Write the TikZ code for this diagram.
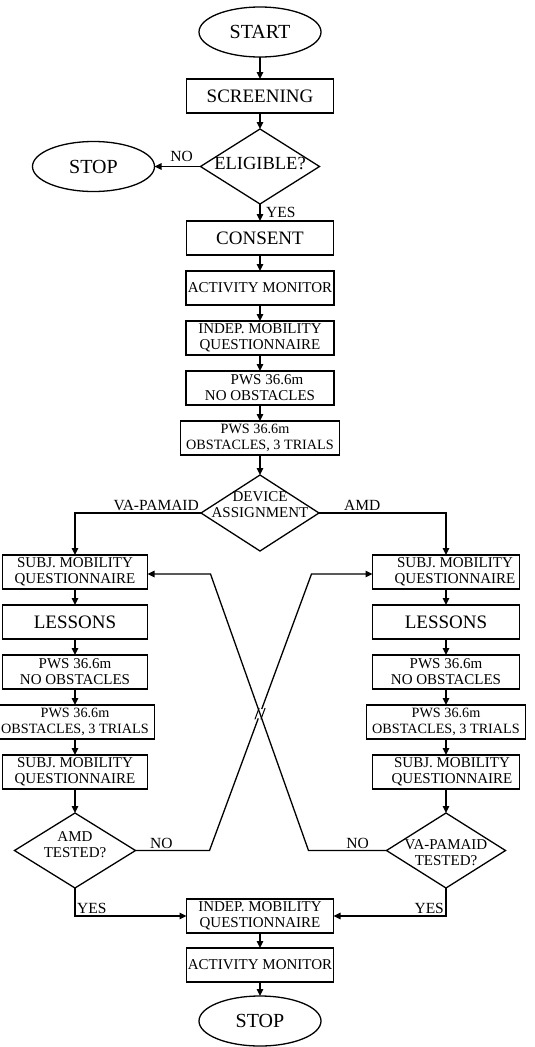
\documentclass[tikz,border=0pt]{standalone}
\usepackage{fontspec}
\setmainfont{Liberation Serif}
\usetikzlibrary{shapes.geometric, arrows.meta, positioning, calc}
\newcommand{\bigtxt}{\fontsize{19}{21}\selectfont}
\newcommand{\smalltxt}{\fontsize{15}{16}\selectfont}
\newcommand{\labtxt}{\fontsize{15.5}{17}\selectfont}
% diamond text: no size of its own, raised by #1 from the centre
\newcommand{\dtext}[2][0pt]{\raisebox{\dimexpr#1-0.25em\relax}[0pt][0pt]{\makebox[0pt]{\begin{tabular}{@{}c@{}}#2\end{tabular}}}}

\begin{document}
\begin{tikzpicture}[
    x=1pt, y=1pt,
    node distance=16pt,
    line/.style={line width=1.3pt},
    term/.style={draw, ellipse, line, outer sep=0pt, minimum width=122pt, minimum height=50pt, inner sep=0pt, font=\fontsize{20}{22}\selectfont},
    bigbox/.style={draw, rectangle, line, outer sep=0pt, minimum width=147pt, minimum height=34pt, inner sep=1pt, font=\bigtxt},
    smallbox/.style={draw, rectangle, line, outer sep=0pt, minimum width=148pt, minimum height=34pt, inner sep=1pt, align=center, font=\smalltxt},
    sidebox/.style={smallbox, minimum width=145pt},
    widebox/.style={smallbox, minimum width=159pt, font=\fontsize{14.2}{16}\selectfont},
    decision/.style={draw, diamond, line, outer sep=0pt, minimum width=119pt, minimum height=75pt, inner sep=0pt, font=\smalltxt},
    flow/.style={line, -{Triangle[length=7pt,width=6.5pt]}},
    edgelab/.style={font=\labtxt, inner sep=1.5pt}
]
    \useasboundingbox (0,0) rectangle (535,-1047);

    % main column
    \node[term] (start) at (260,-32) {START};
    \node[bigbox, below=22pt of start] (screen) {SCREENING};
    \node[decision, below=of screen, font=\fontsize{18.5}{20}\selectfont] (elig) {\dtext[1pt]{ELIGIBLE?}};
    \node[term, left=46pt of elig] (stopA) {STOP};
    \node[bigbox, below=17pt of elig] (consent) {CONSENT};
    \node[smallbox, below=of consent] (actA) {ACTIVITY MONITOR};
    \node[smallbox, below=of actA] (indepA) {INDEP. MOBILITY\\QUESTIONNAIRE};
    \node[smallbox, below=of indepA] (pwsA) {\hspace*{14pt}PWS 36.6m\\NO OBSTACLES};
    \node[widebox, below=of pwsA] (obsA) {PWS 36.6m\hspace*{10pt}\\OBSTACLES, 3 TRIALS};
    \node[decision, below=20pt of obsA, minimum width=118pt, minimum height=76pt] (device) {\dtext[7pt]{DEVICE\\ASSIGNMENT}};

    % VA-PAMAID column
    \node[sidebox] (subjL) at (75,-572) {SUBJ. MOBILITY\\QUESTIONNAIRE};
    \node[bigbox, minimum width=145pt, below=of subjL] (lessL) {LESSONS};
    \node[sidebox, below=of lessL] (pwsL) {PWS 36.6m\\NO OBSTACLES};
    \node[widebox, below=of pwsL] (obsL) {PWS 36.6m\\OBSTACLES, 3 TRIALS};
    \node[sidebox, below=of obsL] (subjL2) {SUBJ. MOBILITY\\QUESTIONNAIRE};
    \node[decision, minimum width=121pt, below=24pt of subjL2] (amdT) {\dtext[4pt]{AMD\\TESTED?}};

    % AMD column
    \node[sidebox, minimum width=147pt] (subjR) at (446,-572) {\hspace*{18pt}SUBJ. MOBILITY\\\hspace*{18pt}QUESTIONNAIRE};
    \node[bigbox, below=of subjR] (lessR) {LESSONS};
    \node[smallbox, minimum width=147pt, below=of lessR] (pwsR) {PWS 36.6m\\NO OBSTACLES};
    \node[widebox, below=of pwsR] (obsR) {PWS 36.6m\\OBSTACLES, 3 TRIALS};
    \node[smallbox, minimum width=147pt, below=of obsR] (subjR2) {\hspace*{12pt}SUBJ. MOBILITY\\\hspace*{12pt}QUESTIONNAIRE};
    \node[decision, minimum width=119pt, below=24pt of subjR2] (vaT) {\dtext[-4pt]{VA-PAMAID\\TESTED?}};

    % end
    \node[smallbox, minimum width=147pt] (indepZ) at (260,-916) {INDEP. MOBILITY\\QUESTIONNAIRE};
    \node[smallbox, minimum width=147pt, below=15pt of indepZ] (actZ) {ACTIVITY MONITOR};
    \node[term, below=14pt of actZ] (stopZ) {STOP};

    \draw[flow] (start) -- (screen);
    \draw[flow] (screen) -- (elig);
    \draw[flow] (elig) -- node[edgelab, above=3pt, pos=0.41]{NO} (stopA);
    \draw[flow] (elig) -- node[edgelab, right=4pt]{YES} (consent);
    \draw[flow] (consent) -- (actA);
    \draw[flow] (actA) -- (indepA);
    \draw[flow] (indepA) -- (pwsA);
    \draw[flow] (pwsA) -- (obsA);
    \draw[flow] (obsA) -- (device);

    \draw[flow] (device.west) -| node[edgelab, pos=0, above left]{VA-PAMAID} (subjL.north);
    \draw[flow] (device.east) -| node[edgelab, pos=0.17, above]{AMD} (subjR.north);

    \draw[flow] (subjL) -- (lessL);
    \draw[flow] (lessL) -- (pwsL);
    \draw[flow] (pwsL) -- (obsL);
    \draw[flow] (obsL) -- (subjL2);
    \draw[flow] (subjL2) -- (amdT);

    \draw[flow] (subjR) -- (lessR);
    \draw[flow] (lessR) -- (pwsR);
    \draw[flow] (pwsR) -- (obsR);
    \draw[flow] (obsR) -- (subjR2);
    \draw[flow] (subjR2) -- (vaT);

    % crossing NO branches
    \coordinate (amdLow) at ($(amdT.east)+(74pt,0)$);
    \coordinate (amdHigh) at ($(subjR.west)+(-61pt,-2pt)$);
    \coordinate (vaLow) at ($(vaT.west)+(-78pt,0)$);
    \coordinate (vaHigh) at ($(subjL.east)+(63pt,-2pt)$);
    \coordinate (jump) at (intersection of amdLow--amdHigh and vaLow--vaHigh);

    \draw[flow] (vaT.west) -- node[edgelab, above, pos=0.37]{NO} (vaLow) -- (vaHigh) -- (subjL.east |- vaHigh);
    \draw[line] (amdT.east) -- node[edgelab, above, pos=0.35]{NO} (amdLow) -- ($(jump)!5pt!(amdLow)$);
    \draw[flow] ($(jump)!5pt!(amdHigh)$) -- (amdHigh) -- (subjR.west |- amdHigh);
    \draw[line, line width=1pt] ($(jump)!6pt!(amdLow)+(-3pt,0)$) -- ($(jump)!6pt!(amdHigh)+(-3pt,0)$);
    \draw[line, line width=1pt] ($(jump)!6pt!(amdLow)+(3pt,0)$) -- ($(jump)!6pt!(amdHigh)+(3pt,0)$);

    \draw[flow] (amdT.south) |- node[edgelab, pos=0.5, above right]{YES} (indepZ.west);
    \draw[flow] (vaT.south) |- node[edgelab, pos=0.5, above left]{YES} (indepZ.east);
    \draw[flow] (indepZ) -- (actZ);
    \draw[flow] (actZ) -- (stopZ);
\end{tikzpicture}
\end{document}
